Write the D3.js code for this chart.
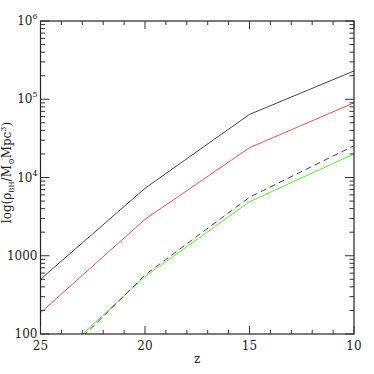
<!DOCTYPE html>
<html><head><meta charset="utf-8">
<script src="https://cdn.jsdelivr.net/npm/d3@7"></script>
<style>body{margin:0;background:#fff}svg{display:block}text{font-family:"DejaVu Serif",serif;fill:#222}</style>
</head><body><svg id="c" width="374" height="374"></svg>
<script>
const redshifts = [25, 20, 15, 10];
const totalBH = [500, 7280, 64000, 230000];
const redBH = [187, 2920, 24000, 90000];
const dashedBH = [27, 568, 5590, 25500];
const greenBH = [32, 540, 4900, 20000];
const xTicks = [25, 20, 15, 10];
const yTickLabels = ["100", "1000", "10^4", "10^5", "10^6"];

const svg = d3.select("#c");
const m = {l: 40.5, r: 354, t: 21, b: 334};
const x = d3.scaleLinear().domain([25, 10]).range([m.l, m.r]);
const y = d3.scaleLog().domain([100, 1e6]).range([m.b, m.t]);

svg.append("defs").append("clipPath").attr("id", "cp")
  .append("rect").attr("x", m.l).attr("y", m.t).attr("width", m.r - m.l).attr("height", m.b - m.t);

const line = d3.line().x((d, i) => x(redshifts[i])).y(d => y(d));
const series = [
  {v: totalBH, c: "#444", dash: null},
  {v: redBH, c: "#ff4c4c", dash: null},
  {v: greenBH, c: "#55ee33", dash: null},
  {v: dashedBH, c: "#444", dash: "6,4"}
];
const g = svg.append("g").attr("clip-path", "url(#cp)");
series.forEach(s => {
  g.append("path").attr("d", line(s.v)).attr("fill", "none")
    .attr("stroke", s.c).attr("stroke-width", 1)
    .attr("stroke-dasharray", s.dash);
});

// frame
svg.append("rect").attr("x", m.l).attr("y", m.t).attr("width", m.r - m.l).attr("height", m.b - m.t)
  .attr("fill", "none").attr("stroke", "#222").attr("stroke-width", 1.2);

// x ticks
const tk = svg.append("g").attr("stroke", "#333").attr("stroke-width", 1);
d3.range(10, 26).forEach(v => {
  const len = v % 5 === 0 ? 8 : 4;
  tk.append("line").attr("x1", x(v)).attr("x2", x(v)).attr("y1", m.b).attr("y2", m.b - len);
  tk.append("line").attr("x1", x(v)).attr("x2", x(v)).attr("y1", m.t).attr("y2", m.t + len);
});
// y ticks
for (let e = 2; e <= 6; e++) {
  for (let k = 1; k <= 9; k++) {
    const v = k * Math.pow(10, e);
    if (v > 1e6) break;
    const len = k === 1 ? 9 : 4.5;
    tk.append("line").attr("x1", m.l).attr("x2", m.l + len).attr("y1", y(v)).attr("y2", y(v));
    tk.append("line").attr("x1", m.r).attr("x2", m.r - len).attr("y1", y(v)).attr("y2", y(v));
  }
}

// x labels
xTicks.forEach(v => {
  svg.append("text").attr("x", x(v)).attr("y", 350).attr("text-anchor", "middle")
    .attr("font-size", 12).text(v);
});
svg.append("text").attr("x", (m.l + m.r) / 2).attr("y", 363).attr("text-anchor", "middle")
  .attr("font-size", 12).text("z");

// y labels
yTickLabels.forEach((lab, i) => {
  const v = Math.pow(10, i + 2);
  const t = svg.append("text").attr("x", m.l - 3).attr("y", y(v) + 4).attr("text-anchor", "end")
    .attr("font-size", 12);
  if (lab.includes("^")) {
    const [b, p] = lab.split("^");
    t.append("tspan").text(b);
    t.append("tspan").attr("font-size", 8).attr("dy", -6).text(p);
  } else t.text(lab);
});

// y axis title
const yt = svg.append("text").attr("transform", `translate(11,${(m.t + m.b) / 2 - 5}) rotate(-90)`)
  .attr("text-anchor", "middle").attr("font-size", 12);
yt.append("tspan").text("log(ρ");
yt.append("tspan").attr("font-size", 7).attr("baseline-shift", "-3").text("BH");
yt.append("tspan").text("/M");
yt.append("tspan").attr("font-size", 8).attr("baseline-shift", "-3").text("⊙");
yt.append("tspan").text("Mpc");
yt.append("tspan").attr("font-size", 8).attr("baseline-shift", "5").text("3");
yt.append("tspan").text(")");
</script></body></html>
